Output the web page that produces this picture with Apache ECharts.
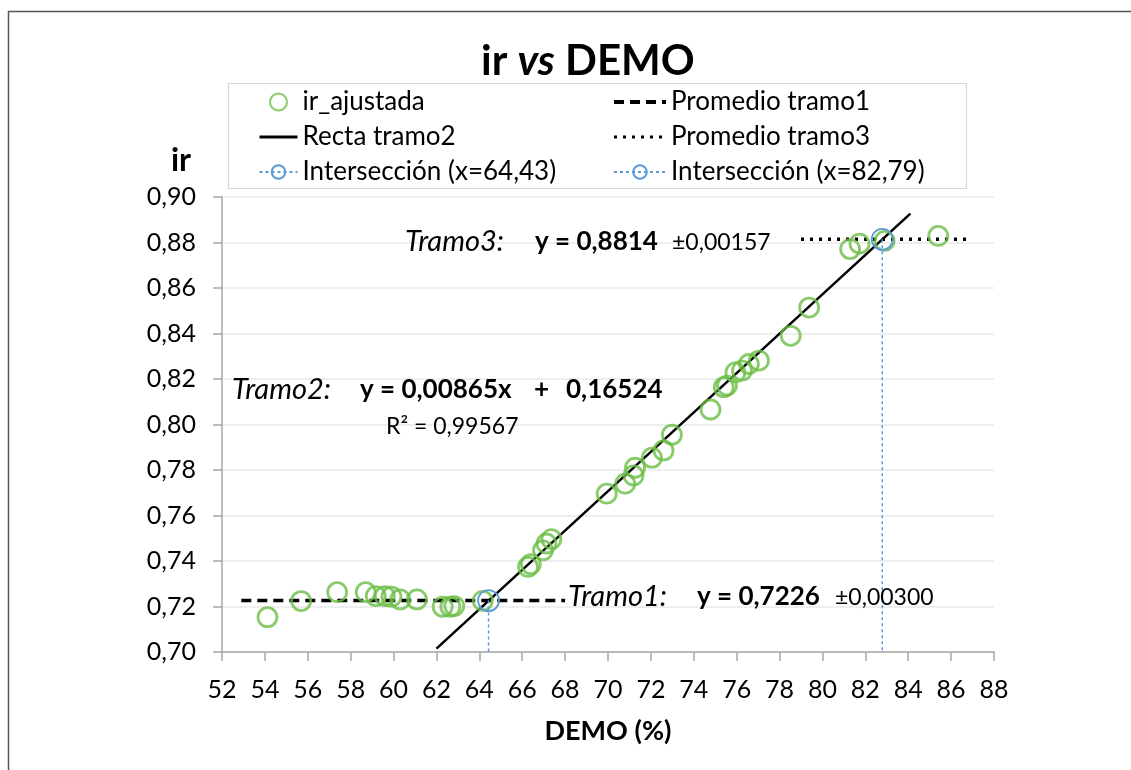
<!DOCTYPE html>
<html>
<head>
<meta charset="utf-8">
<title>ir vs DEMO</title>
<script src="https://cdn.jsdelivr.net/npm/echarts@6/dist/echarts.min.js"></script>
<style>
  html, body { margin: 0; padding: 0; background: #fff; }
  #chart { width: 1131px; height: 770px; }
</style>
</head>
<body>
<div id="chart"></div>
<script>
// valores
var demo = [54.12, 55.69, 57.37, 58.70, 59.17, 59.59, 59.90, 60.31, 61.09, 62.29, 62.65, 62.83, 64.16,
            66.27, 66.40, 66.97, 67.13, 67.36, 69.94, 70.80, 71.19, 71.26, 72.05, 72.59, 72.98,
            74.78, 75.40, 75.55, 75.94, 76.25, 76.57, 77.04, 78.52, 79.38, 81.29, 81.73, 82.90, 85.40];
var irAjustada = [0.7153, 0.7224, 0.7263, 0.7263, 0.7246, 0.7246, 0.7243, 0.7231, 0.7231, 0.7199, 0.7199, 0.7202, 0.7225,
                  0.7374, 0.7386, 0.7447, 0.7477, 0.7496, 0.7696, 0.7740, 0.7776, 0.7810, 0.7854, 0.7886, 0.7955,
                  0.8066, 0.8164, 0.8171, 0.8229, 0.8237, 0.8266, 0.8281, 0.8390, 0.8514, 0.8771, 0.8795, 0.8807, 0.8829];

var rectaX = [62, 84.1];
var rectaY = [0.7015, 0.8927];
var tramo1X = [52.9, 68];
var tramo1Y = [0.7226, 0.7226];
var tramo3X = [79, 86.8];
var tramo3Y = [0.8814, 0.8814];
var inter1X = [64.43, 64.43];
var inter1Y = [0.7226, 0.70];
var inter2X = [82.79, 82.79];
var inter2Y = [0.8814, 0.70];

var FONT = 'Lato';
var GREEN = '#6cbd45';
var BLUE = '#5b9bd5';

function pares(xs, ys) {
  return xs.map(function (x, i) { return [x, ys[i]]; });
}
function interseccion(xs, ys) {
  var d = pares(xs, ys);
  return [{ value: d[0] }, { value: d[1], symbol: 'none' }];
}
function texto(x, y, t, size, weight, style) {
  return {
    type: 'text', x: x, y: y, silent: true, z: 10,
    style: {
      text: t, fontFamily: FONT, fontSize: size,
      fontWeight: weight || 'normal', fontStyle: style || 'normal',
      fill: '#000', verticalAlign: 'middle'
    }
  };
}

var chart = echarts.init(document.getElementById('chart'));

var legendText = { fontFamily: FONT, fontSize: 26, color: '#000' };
var sinSimbolo = { opacity: 0 };

var option = {
  backgroundColor: '#fff',
  textStyle: { fontFamily: FONT },
  animation: false,
  title: {
    text: '{b|ir }{i|vs}{b| DEMO}',
    left: 476,
    top: 35,
    textStyle: {
      rich: {
        b: { fontFamily: FONT, fontSize: 42, fontWeight: 'bold', color: '#000' },
        i: { fontFamily: FONT, fontSize: 42, fontStyle: 'italic', color: '#000' }
      }
    }
  },
  legend: [
    {
      orient: 'vertical',
      left: 253,
      top: 84,
      itemWidth: 38,
      itemHeight: 17,
      itemGap: 9,
      textStyle: legendText,
      data: [
        { name: 'ir_ajustada' },
        { name: 'Recta tramo2', itemStyle: sinSimbolo, lineStyle: { width: 3 } },
        { name: 'Intersección (x=64,43)' }
      ]
    },
    {
      orient: 'vertical',
      left: 607,
      top: 84,
      itemWidth: 52,
      itemHeight: 17,
      itemGap: 9,
      textStyle: legendText,
      data: [
        { name: 'Promedio tramo1', itemStyle: sinSimbolo, lineStyle: { width: 4 } },
        { name: 'Promedio tramo3', itemStyle: sinSimbolo, lineStyle: { width: 3 } },
        { name: 'Intersección (x=82,79)' }
      ]
    }
  ],
  grid: { left: 222, right: 137, top: 197, bottom: 118 },
  xAxis: {
    type: 'value',
    min: 52, max: 88, interval: 2,
    name: 'DEMO (%)',
    nameLocation: 'middle',
    nameGap: 66,
    nameTextStyle: { fontFamily: FONT, fontSize: 27, fontWeight: 'bold', color: '#000' },
    axisLine: { lineStyle: { color: '#a6a6a6', width: 1.5 } },
    axisTick: { show: true, length: 9, lineStyle: { color: '#a6a6a6', width: 1.5 } },
    axisLabel: { fontFamily: FONT, fontSize: 25, color: '#000', margin: 25 },
    splitLine: { show: false }
  },
  yAxis: {
    type: 'value',
    min: 0.70, max: 0.90, interval: 0.02,
    name: 'ir',
    nameLocation: 'end',
    nameGap: 20,
    nameTextStyle: { fontFamily: FONT, fontSize: 32, fontWeight: 'bold', color: '#000', align: 'right', padding: [0, 31, 0, 0] },
    axisLine: { show: true, lineStyle: { color: '#a6a6a6', width: 1.5 } },
    axisTick: { show: true, length: 9, lineStyle: { color: '#a6a6a6', width: 1.5 } },
    axisLabel: {
      fontFamily: FONT, fontSize: 25, color: '#000', margin: 26,
      formatter: function (v) { return v.toFixed(2).replace('.', ','); }
    },
    splitLine: { lineStyle: { color: '#e8e8e8', width: 1.5 } }
  },
  series: [
    {
      name: 'Promedio tramo1',
      type: 'line',
      data: pares(tramo1X, tramo1Y),
      symbol: 'none',
      lineStyle: { color: '#000', width: 3.5, type: [10, 6] },
      itemStyle: { color: '#000' },
      z: 2
    },
    {
      name: 'Promedio tramo3',
      type: 'line',
      data: pares(tramo3X, tramo3Y),
      symbol: 'none',
      lineStyle: { color: '#000', width: 3.5, type: [3, 6] },
      itemStyle: { color: '#000' },
      z: 2
    },
    {
      name: 'Recta tramo2',
      type: 'line',
      data: pares(rectaX, rectaY),
      symbol: 'none',
      lineStyle: { color: '#000', width: 2.5 },
      itemStyle: { color: '#000' },
      z: 2
    },
    {
      name: 'ir_ajustada',
      type: 'scatter',
      data: pares(demo, irAjustada),
      symbol: 'circle',
      symbolSize: 19,
      itemStyle: { color: 'rgba(255,255,255,0)', borderColor: GREEN, borderWidth: 2.8 },
      z: 3
    },
    {
      name: 'Intersección (x=64,43)',
      type: 'line',
      data: interseccion(inter1X, inter1Y),
      symbol: 'circle',
      symbolSize: 21,
      lineStyle: { color: BLUE, width: 1.5, type: [3, 3] },
      itemStyle: { color: 'rgba(255,255,255,0)', borderColor: BLUE, borderWidth: 1.8 },
      z: 4
    },
    {
      name: 'Intersección (x=82,79)',
      type: 'line',
      data: interseccion(inter2X, inter2Y),
      symbol: 'circle',
      symbolSize: 21,
      lineStyle: { color: BLUE, width: 1.5, type: [3, 3] },
      itemStyle: { color: 'rgba(255,255,255,0)', borderColor: BLUE, borderWidth: 1.8 },
      z: 4
    }
  ],
  graphic: [
    // marco exterior
    { type: 'polyline', shape: { points: [[8.5, 770], [8.5, 11.5], [1131, 11.5]] }, style: { stroke: '#555', lineWidth: 1.5, fill: null }, silent: true },
    // caja de la leyenda
    { type: 'rect', shape: { x: 228.5, y: 83.5, width: 738, height: 105 }, style: { stroke: '#d9d9d9', lineWidth: 1.2, fill: null }, silent: true },
    // anotaciones
    texto(405, 242, 'Tramo3:', 29, 'normal', 'italic'),
    texto(535, 242, 'y = 0,8814', 26, 'bold'),
    texto(672, 243, '±0,00157', 23),
    texto(232, 390, 'Tramo2:', 29, 'normal', 'italic'),
    texto(360, 390, 'y = 0,00865x', 26, 'bold'),
    texto(534, 390, '+', 26, 'bold'),
    texto(566, 390, '0,16524', 26, 'bold'),
    texto(386, 427, 'R² = 0,99567', 23),
    texto(568, 597, 'Tramo1:', 29, 'normal', 'italic'),
    texto(697, 597, 'y = 0,7226', 26, 'bold'),
    texto(835, 598, '±0,00300', 23)
  ]
};

chart.setOption(option);
</script>
</body>
</html>
